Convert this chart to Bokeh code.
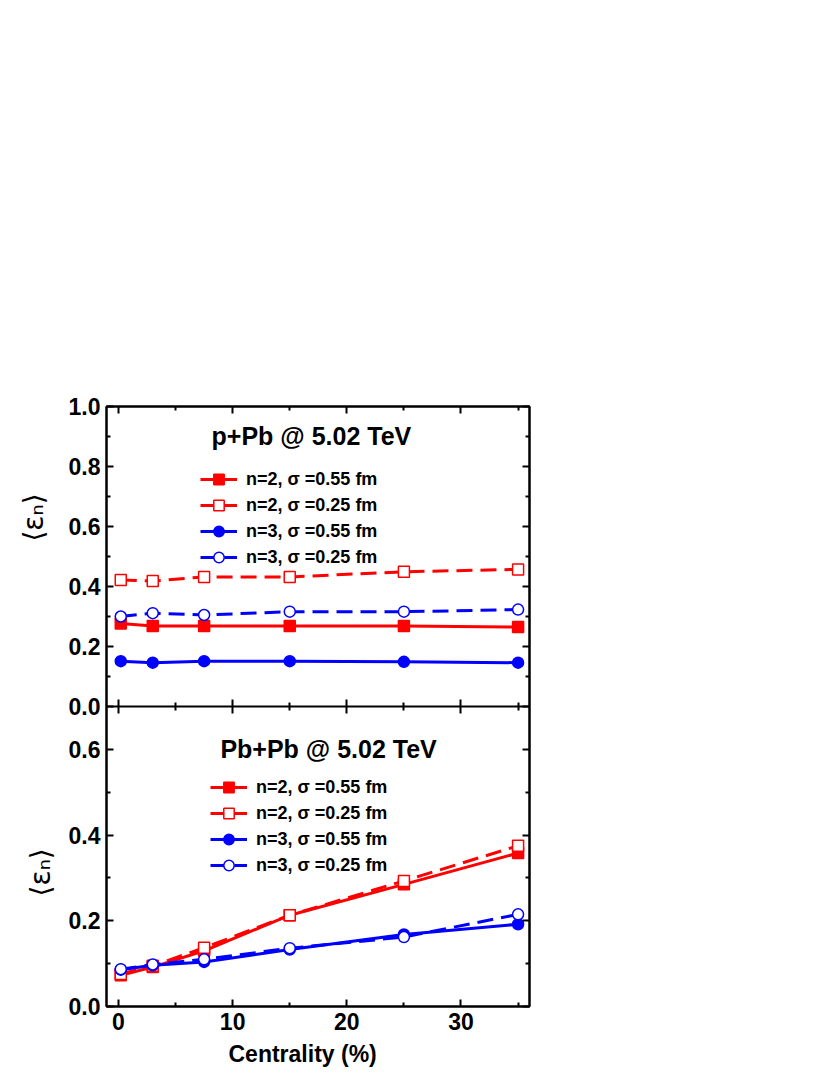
import math
from bokeh.plotting import figure
from bokeh.layouts import row
from bokeh.models import (Range1d, FixedTicker, LinearAxis, Legend, LegendItem, Label, Title,
                          ColumnDataSource, CustomJSTickFormatter)
from bokeh.embed import file_html
from bokeh.resources import INLINE

# ---------------- data ----------------
centrality = [0.2, 3, 7.5, 15, 25, 35]

ppb_n2_s055 = [0.277, 0.268, 0.268, 0.268, 0.268, 0.265]
ppb_n2_s025 = [0.422, 0.418, 0.432, 0.432, 0.449, 0.457]
ppb_n3_s055 = [0.151, 0.146, 0.151, 0.151, 0.149, 0.146]
ppb_n3_s025 = [0.300, 0.311, 0.305, 0.316, 0.316, 0.323]

pbpb_n2_s055 = [0.073, 0.092, 0.130, 0.213, 0.285, 0.358]
pbpb_n2_s025 = [0.076, 0.095, 0.137, 0.213, 0.293, 0.375]
pbpb_n3_s055 = [0.086, 0.096, 0.104, 0.133, 0.168, 0.192]
pbpb_n3_s025 = [0.087, 0.098, 0.110, 0.136, 0.162, 0.215]

series_labels = ["n=2, σ =0.55 fm", "n=2, σ =0.25 fm", "n=3, σ =0.55 fm", "n=3, σ =0.25 fm"]
x_ticks = [0, 10, 20, 30]
x_minor = [5, 15, 25, 35]
top_yticks = [0.0, 0.2, 0.4, 0.6, 0.8, 1.0]
top_yminor = [0.1, 0.3, 0.5, 0.7, 0.9]
bot_yticks = [0.0, 0.2, 0.4, 0.6]
bot_yminor = [0.1, 0.3, 0.5]
top_title = "p+Pb  @ 5.02 TeV"
bot_title = "Pb+Pb @ 5.02 TeV"
y_label = "⟨εₙ⟩"
x_label = "Centrality (%)"

FONT = "Liberation Sans"
RED = "#ff0000"
BLUE = "#0000ff"

TOP_MAX = 1.0   # top panel (p+Pb) y range 0..1.0
BOT_MAX = 0.7   # bottom panel (Pb+Pb) y range 0..0.7
BORDER_TOP = 406
BORDER_BOTTOM = 65
FRAME_H = 600

# Top panel uses the default y range (-TOP_MAX..TOP_MAX: only the upper half is the panel),
# bottom panel uses an extra range (0..2*BOT_MAX: only the lower half is the panel).
def bot_to_top(b):
    return -TOP_MAX + b * TOP_MAX / BOT_MAX

left_major = [bot_to_top(b) for b in bot_yticks] + top_yticks
left_minor = [bot_to_top(b) for b in bot_yminor] + top_yminor

y_formatter = CustomJSTickFormatter(args=dict(tmax=TOP_MAX, bmax=BOT_MAX), code="""
    if (tick >= -1e-9) { return tick.toFixed(1); }
    return ((tick + tmax) * bmax / tmax).toFixed(1);
""")

y_top = Range1d(-TOP_MAX, TOP_MAX)
y_bot = Range1d(0, 2 * BOT_MAX)


def style_axis(ax, ticks, minor, show_labels, tin=7, tout=0, min_in=4, min_out=0):
    ax.ticker = FixedTicker(ticks=ticks, minor_ticks=minor)
    ax.axis_line_width = 2
    ax.axis_line_color = "black"
    ax.major_tick_in = tin
    ax.major_tick_out = tout
    ax.minor_tick_in = min_in
    ax.minor_tick_out = min_out
    ax.major_tick_line_width = 2
    ax.minor_tick_line_width = 2
    ax.major_tick_line_color = "black"
    ax.minor_tick_line_color = "black"
    if show_labels:
        ax.major_label_text_font = FONT
        ax.major_label_text_font_style = "bold"
        ax.major_label_text_font_size = "23px"
        ax.major_label_text_color = "black"
        ax.major_label_standoff = 6
    else:
        ax.formatter = CustomJSTickFormatter(code="return ''")
        ax.major_label_text_font_size = "0px"
        ax.major_label_standoff = 0


p = figure(frame_width=423, frame_height=FRAME_H,
           x_range=Range1d(-1.05, 36), y_range=y_top,
           output_backend="svg", toolbar_location=None,
           min_border_left=46, min_border_right=12,
           min_border_top=BORDER_TOP, min_border_bottom=BORDER_BOTTOM,
           x_axis_location=None, y_axis_location=None)
p.extra_y_ranges = {"bot": y_bot}
p.grid.visible = False
p.outline_line_color = "black"
p.outline_line_width = 2
p.background_fill_color = "white"
p.border_fill_color = "white"

left = LinearAxis()
style_axis(left, left_major, left_minor, True)
left.formatter = y_formatter
p.add_layout(left, "left")

right = LinearAxis()
style_axis(right, left_major, left_minor, False)
p.add_layout(right, "right")

above = LinearAxis()
style_axis(above, x_ticks, x_minor, False)
p.add_layout(above, "above")

# boundary between the two panels: an axis fixed at the panel junction, ticks both ways
mid = LinearAxis(fixed_location=0)
style_axis(mid, x_ticks, x_minor, False, tin=7, tout=7, min_in=4, min_out=4)
p.add_layout(mid, "above")

below = LinearAxis()
style_axis(below, x_ticks, x_minor, True)
p.add_layout(below, "below")

p.add_layout(Title(text=x_label, align="left", offset=122, text_font=FONT,
                   text_font_style="bold", text_font_size="23px", text_color="black",
                   standoff=12), "below")


def add_series(y, color, dash, marker, filled, label, rng):
    src = ColumnDataSource(dict(x=centrality, y=y))
    ln = p.line("x", "y", source=src, line_color=color, line_width=3, line_dash=dash,
                y_range_name=rng)
    sc = p.scatter("x", "y", source=src, marker=marker, size=11,
                   fill_color=color if filled else "white", line_color=color, line_width=1.5,
                   y_range_name=rng)
    return LegendItem(label=label, renderers=[ln, sc])


def fill_panel(ys, legend_loc, rng):
    styles = [(RED, "solid", "square", True),
              (RED, "16 8", "square", False),
              (BLUE, "solid", "circle", True),
              (BLUE, "16 8", "circle", False)]
    items = [add_series(y, c, d, m, f, lab, rng)
             for y, (c, d, m, f), lab in zip(ys, styles, series_labels)]
    leg = Legend(items=items, location=legend_loc)
    leg.border_line_color = None
    leg.background_fill_alpha = 0
    leg.padding = 0
    leg.margin = 0
    leg.spacing = 0
    leg.glyph_width = 37
    leg.glyph_height = 26
    leg.label_height = 26
    leg.label_standoff = 9
    leg.label_text_font = FONT
    leg.label_text_font_style = "bold"
    leg.label_text_font_size = "18px"
    leg.label_text_color = "black"
    p.add_layout(leg, "center")


fill_panel([ppb_n2_s055, ppb_n2_s025, ppb_n3_s055, ppb_n3_s025], (94, 436), "default")
fill_panel([pbpb_n2_s055, pbpb_n2_s025, pbpb_n3_s055, pbpb_n3_s025], (104, 128), "bot")

p.add_layout(Label(x=17.2, y=0.903, text=top_title, text_align="center", text_baseline="middle",
                   text_font=FONT, text_font_style="bold", text_font_size="25px",
                   text_color="black"))
p.add_layout(Label(x=18.4, y=0.602, y_range_name="bot", text=bot_title, text_align="center",
                   text_baseline="middle", text_font=FONT, text_font_style="bold",
                   text_font_size="25px", text_color="black"))

# side strip holding the two rotated y-axis titles, frame aligned with the main frame
lab = figure(frame_width=60, frame_height=FRAME_H, x_range=Range1d(0, 60), y_range=y_top,
             output_backend="svg", toolbar_location=None,
             min_border_left=0, min_border_right=0,
             min_border_top=BORDER_TOP, min_border_bottom=BORDER_BOTTOM,
             x_axis_location=None, y_axis_location=None)
lab.extra_y_ranges = {"bot": y_bot}
lab.grid.visible = False
lab.outline_line_color = None
lab.background_fill_color = "white"
lab.border_fill_color = "white"
lab.add_layout(Label(x=33, y=0.63, text=y_label, angle=math.pi / 2, text_align="center",
                     text_baseline="middle", text_font="DejaVu Sans", text_font_size="28px",
                     text_color="black"))
lab.add_layout(Label(x=40, y=0.313, y_range_name="bot", text=y_label, angle=math.pi / 2,
                     text_align="center", text_baseline="middle", text_font="DejaVu Sans",
                     text_font_size="28px", text_color="black"))

layout = row(lab, p, spacing=0)
open("out.html", "w").write(file_html(layout, INLINE))
